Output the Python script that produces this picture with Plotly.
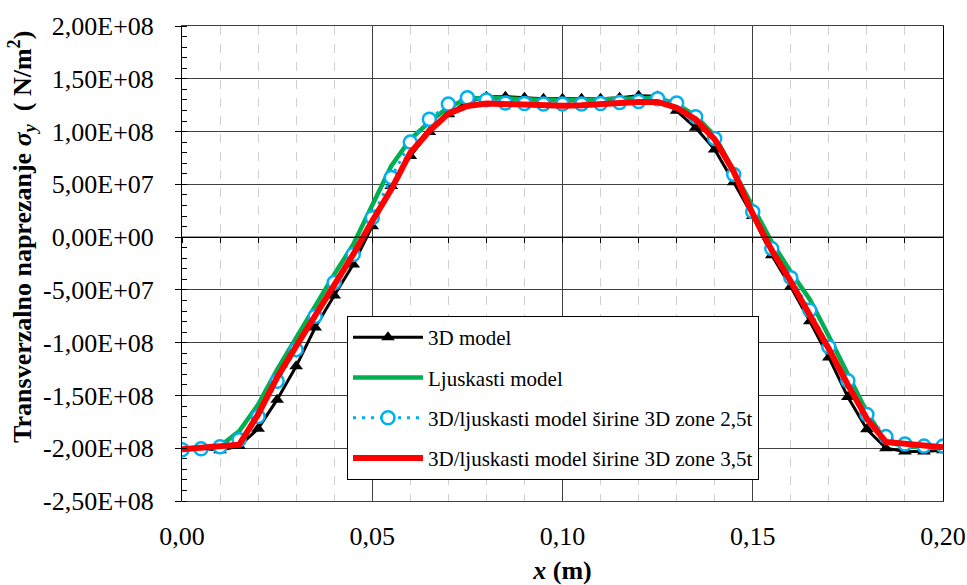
import math
import plotly.graph_objects as go

# ---------------- data ----------------
x_m = [0.000, 0.005, 0.010, 0.015, 0.020, 0.025, 0.030, 0.035, 0.040, 0.045,
       0.050, 0.055, 0.060, 0.065, 0.070, 0.075, 0.080, 0.085, 0.090, 0.095,
       0.100, 0.105, 0.110, 0.115, 0.120, 0.125, 0.130, 0.135, 0.140, 0.145,
       0.150, 0.155, 0.160, 0.165, 0.170, 0.175, 0.180, 0.185, 0.190, 0.195,
       0.200]

# values in units of 1e8 N/m^2
model_3d = [-2.02, -2.00, -2.02, -1.98, -1.815, -1.54, -1.224, -0.857, -0.553, -0.259,
            0.104, 0.484, 0.768, 0.996, 1.164, 1.28, 1.33, 1.33, 1.32, 1.31,
            1.31, 1.31, 1.31, 1.32, 1.34, 1.335, 1.196, 1.035, 0.83, 0.52,
            0.20, -0.172, -0.47, -0.797, -1.14, -1.515, -1.82, -2.00, -2.03, -2.03,
            -2.02]

ljuskasti = [-2.01, -2.00, -1.98, -1.84, -1.587, -1.255, -0.95, -0.655, -0.354, -0.07,
             0.294, 0.674, 0.927, 1.09, 1.23, 1.31, 1.32, 1.31, 1.30, 1.30,
             1.295, 1.30, 1.30, 1.31, 1.32, 1.32, 1.26, 1.15, 0.96, 0.63,
             0.28, -0.047, -0.33, -0.59, -0.94, -1.30, -1.66, -1.94, -1.98, -1.99,
             -2.00]

zona_25t = [-2.014, -2.005, -1.986, -1.92, -1.70, -1.366, -1.066, -0.75, -0.43, -0.164,
            0.184, 0.564, 0.90, 1.117, 1.26, 1.32, 1.30, 1.27, 1.265, 1.26,
            1.26, 1.26, 1.265, 1.275, 1.285, 1.31, 1.27, 1.14, 0.935, 0.594,
            0.241, -0.109, -0.384, -0.694, -1.04, -1.36, -1.68, -1.89, -1.96, -1.98,
            -1.98]

zona_35t = [-2.01, -1.996, -1.98, -1.967, -1.68, -1.33, -1.034, -0.75, -0.45, -0.164,
            0.152, 0.453, 0.80, 1.005, 1.17, 1.243, 1.266, 1.26, 1.25, 1.245,
            1.245, 1.25, 1.255, 1.27, 1.28, 1.28, 1.226, 1.115, 0.926, 0.62,
            0.219, -0.125, -0.42, -0.73, -1.06, -1.40, -1.72, -1.94, -1.96, -1.98,
            -1.99]

SCALE = 1e8

series_names = ["3D model", "Ljuskasti model",
                "3D/ljuskasti model širine 3D zone 2,5t",
                "3D/ljuskasti model širine 3D zone 3,5t"]

y_ticks = [2.0e8, 1.5e8, 1.0e8, 5.0e7, 0.0, -5.0e7, -1.0e8, -1.5e8, -2.0e8, -2.5e8]
x_ticks = [0.00, 0.05, 0.10, 0.15, 0.20]
x_tick_labels = ["0,00", "0,05", "0,10", "0,15", "0,20"]

y_title = "<b>Transverzalno naprezanje <i>σ<sub>y</sub></i>  ( N/m<sup>2</sup>)</b>"
x_title = "<b><i>x</i> (m)</b>"


def sci_label(v):
    if v == 0:
        return "0,00E+00"
    e = int(math.floor(math.log10(abs(v))))
    m = v / 10 ** e
    s = f"{m:.2f}".replace(".", ",")
    return f"{s}E{'+' if e >= 0 else '-'}{abs(e):02d}"


y_tick_labels = [sci_label(v) for v in y_ticks]

FONT = "Liberation Serif"

fig = go.Figure()

fig.add_trace(go.Scatter(
    x=x_m, y=[v * SCALE for v in model_3d], name=series_names[0],
    mode="lines+markers", legendgroup="a",
    line=dict(color="black", width=3),
    marker=dict(symbol="triangle-up", size=12, color="black"),
))
fig.add_trace(go.Scatter(
    x=x_m, y=[v * SCALE for v in ljuskasti], name=series_names[1],
    mode="lines", legendgroup="b",
    line=dict(color="#00B050", width=4.5),
))
fig.add_trace(go.Scatter(
    x=x_m, y=[v * SCALE for v in zona_25t], name=series_names[2],
    mode="lines+markers", legendgroup="c",
    line=dict(color="#00B0F0", width=3, dash="3px,6px"),
    marker=dict(symbol="circle", size=13, color="white",
                line=dict(color="#00B0F0", width=2.5)),
))
fig.add_trace(go.Scatter(
    x=x_m, y=[v * SCALE for v in zona_35t], name=series_names[3],
    mode="lines", legendgroup="d",
    line=dict(color="#FF0000", width=6),
))

# helper trace on overlay axis carrying the tick marks at y = 0
fig.add_trace(go.Scatter(
    x=[x_m[0], x_m[-1]], y=[0, 0], xaxis="x2", mode="lines",
    line=dict(color="black", width=1), showlegend=False, hoverinfo="skip",
))

y_min, y_max = y_ticks[-1], y_ticks[0]
zero_pos = (0 - y_min) / (y_max - y_min)

fig.update_layout(
    width=967, height=585,
    margin=dict(l=182, r=24, t=26, b=84, autoexpand=False),
    paper_bgcolor="white", plot_bgcolor="white",
    font=dict(family=FONT, size=26, color="black"),
    showlegend=True,
    legend=dict(
        x=0.2168, y=0.3895, xanchor="left", yanchor="top",
        bgcolor="white", bordercolor="black", borderwidth=1,
        font=dict(family=FONT, size=21, color="black"),
        itemwidth=70, tracegroupgap=10, traceorder="grouped",
    ),
    xaxis=dict(
        range=[x_ticks[0], x_ticks[-1]],
        tickvals=x_ticks, ticktext=x_tick_labels,
        ticks="", showline=True, linecolor="#404040", linewidth=1, mirror=True,
        showgrid=True, gridcolor="#404040", gridwidth=1,
        zeroline=False,
        minor=dict(dtick=0.01, tick0=0, showgrid=True, gridcolor="#d0d0d0",
                   griddash="dash", gridwidth=1),
        tickfont=dict(family=FONT, size=26),
        ticklabelstandoff=12,
        title=dict(text=x_title, font=dict(family=FONT, size=26), standoff=24),
    ),
    xaxis2=dict(
        overlaying="x", anchor="free", position=zero_pos,
        range=[x_ticks[0], x_ticks[-1]],
        tickmode="linear", tick0=0, dtick=0.01,
        ticks="outside", ticklen=5, tickcolor="black", tickwidth=1,
        showticklabels=False, showgrid=False, showline=False, zeroline=False,
    ),
    yaxis=dict(
        range=[y_min, y_max],
        tickvals=y_ticks, ticktext=y_tick_labels,
        ticks="outside", ticklen=6, tickcolor="black",
        showline=True, linecolor="black", linewidth=1, mirror=True,
        showgrid=True, gridcolor="#404040", gridwidth=1,
        zeroline=True, zerolinecolor="black", zerolinewidth=1,
        minor=dict(dtick=1e7, tick0=0, ticks="inside", ticklen=5,
                   tickcolor="black", showgrid=False),
        tickfont=dict(family=FONT, size=26),
        ticklabelstandoff=16,
    ),
    annotations=[dict(
        text=y_title, textangle=-90, showarrow=False,
        xref="paper", yref="paper", x=0, y=0.556,
        xanchor="center", yanchor="middle", xshift=-160,
        font=dict(family=FONT, size=26, color="black"),
    )],
)

fig.write_html("out.html",
               config={"displayModeBar": False},
               post_script="document.body.style.margin='0';document.body.style.overflow='hidden';")
